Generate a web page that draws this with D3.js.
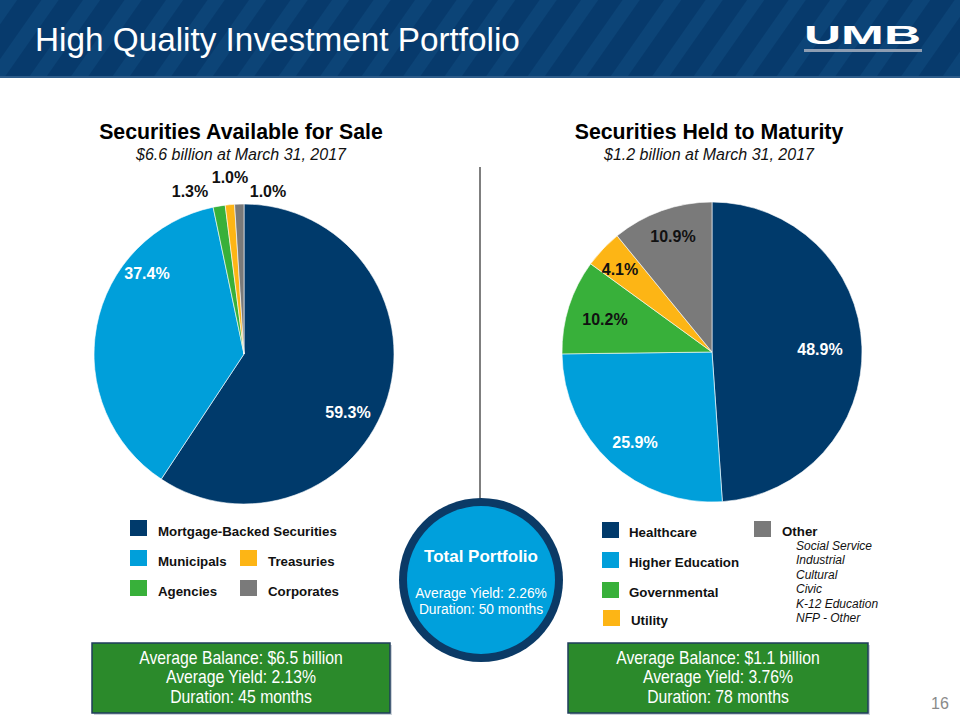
<!DOCTYPE html>
<html>
<head>
<meta charset="utf-8">
<script src="https://cdn.jsdelivr.net/npm/d3@7"></script>
<style>
  html, body { margin: 0; padding: 0; background: #ffffff; }
  svg { display: block; font-family: Arial, "Liberation Sans", sans-serif; }
</style>
</head>
<body>
<svg id="chart" width="960" height="720"></svg>
<script>
// ---------------- DATA ----------------
const afsCategories = ["Mortgage-Backed Securities", "Municipals", "Agencies", "Treasuries", "Corporates"];
const afsValues = [59.3, 37.4, 1.3, 1.0, 1.0];
const afsLabels = ["59.3%", "37.4%", "1.3%", "1.0%", "1.0%"];

const htmCategories = ["Healthcare", "Higher Education", "Governmental", "Utility", "Other"];
const htmValues = [48.9, 25.9, 10.2, 4.1, 10.9];
const htmLabels = ["48.9%", "25.9%", "10.2%", "4.1%", "10.9%"];

const otherSubItems = ["Social Service", "Industrial", "Cultural", "Civic", "K-12 Education", "NFP - Other"];

const afsTitle = "Securities Available for Sale";
const afsSubtitle = "$6.6 billion at March 31, 2017";
const htmTitle = "Securities Held to Maturity";
const htmSubtitle = "$1.2 billion at March 31, 2017";

const afsSummary = ["Average Balance: $6.5 billion", "Average Yield: 2.13%", "Duration: 45 months"];
const htmSummary = ["Average Balance: $1.1 billion", "Average Yield: 3.76%", "Duration: 78 months"];
const totalTitle = "Total Portfolio";
const totalLines = ["Average Yield: 2.26%", "Duration: 50 months"];

// ---------------- STYLE / LAYOUT ----------------
const colors = ["#003a6b", "#009fda", "#38b03a", "#fdb515", "#7a7a7a"];
const svg = d3.select("#chart");
const W = 960, H = 720;

// Header with diagonal stripes
const defs = svg.append("defs");
const pat = defs.append("pattern")
  .attr("id", "stripes").attr("patternUnits", "userSpaceOnUse")
  .attr("width", 34).attr("height", 34)
  .attr("patternTransform", "rotate(35)");
pat.append("rect").attr("width", 34).attr("height", 34).attr("fill", "#073a6c");
pat.append("rect").attr("width", 14).attr("height", 34).attr("fill", "#0c4477");

svg.append("rect").attr("x", 0).attr("y", 0).attr("width", W).attr("height", 77).attr("fill", "url(#stripes)");
svg.append("rect").attr("x", 0).attr("y", 76).attr("width", W).attr("height", 2).attr("fill", "#2d5c8a");

svg.append("text").attr("x", 35).attr("y", 51)
  .attr("fill", "#ffffff").attr("font-size", 33.3)
  .text("High Quality Investment Portfolio");

// UMB logo
svg.append("text").attr("x", 804).attr("y", 44)
  .attr("fill", "#ffffff").attr("font-size", 25).attr("font-weight", 900)
  .attr("textLength", 117).attr("lengthAdjust", "spacingAndGlyphs")
  .text("UMB");
svg.append("rect").attr("x", 804).attr("y", 49).attr("width", 118).attr("height", 3).attr("fill", "#8d9db2");

// Pie helper
const pie = d3.pie().sort(null).value(d => d);
const R = 150;

function drawPie(cx, cy, values, labels, labelOffsets, labelColors, title, subtitle) {
  const g = svg.append("g").attr("transform", `translate(${cx},${cy})`);
  const arc = d3.arc().innerRadius(0).outerRadius(R);
  const arcs = pie(values);
  g.selectAll("path.slice").data(arcs).enter().append("path")
    .attr("class", "slice")
    .attr("d", arc)
    .attr("fill", (d, i) => colors[i])
    .attr("stroke", "#ffffff").attr("stroke-width", 0.6);
  g.selectAll("text.lbl").data(arcs).enter().append("text")
    .attr("class", "lbl")
    .attr("x", (d, i) => labelOffsets[i][0])
    .attr("y", (d, i) => labelOffsets[i][1])
    .attr("text-anchor", "middle").attr("dominant-baseline", "central")
    .attr("font-size", 16).attr("font-weight", "bold")
    .attr("fill", (d, i) => labelColors[i])
    .text((d, i) => labels[i]);
  svg.append("text").attr("x", cx - 3).attr("y", 139)
    .attr("text-anchor", "middle").attr("font-size", 21.3).attr("font-weight", "bold")
    .attr("fill", "#000").text(title);
  svg.append("text").attr("x", cx - 3).attr("y", 160)
    .attr("text-anchor", "middle").attr("font-size", 16).attr("font-style", "italic")
    .attr("fill", "#111").text(subtitle);
}

drawPie(244, 354, afsValues, afsLabels,
  [[104, 58], [-97, -81], [-54, -163], [-14, -177], [24, -163]],
  ["#fff", "#fff", "#111", "#111", "#111"],
  afsTitle, afsSubtitle);

drawPie(712, 352, htmValues, htmLabels,
  [[108, -3], [-77, 90], [-107, -33], [-92, -83], [-39, -116]],
  ["#fff", "#fff", "#111", "#111", "#111"],
  htmTitle, htmSubtitle);

// Divider
svg.append("line").attr("x1", 480).attr("x2", 480).attr("y1", 167).attr("y2", 501)
  .attr("stroke", "#7f7f7f").attr("stroke-width", 2);

// Left legend
const leftLegend = [
  {i: 0, x: 130, y: 520},
  {i: 1, x: 130, y: 550},
  {i: 3, x: 240, y: 550},
  {i: 2, x: 130, y: 580},
  {i: 4, x: 240, y: 580}
];
const lg = svg.append("g");
leftLegend.forEach(d => {
  lg.append("rect").attr("x", d.x).attr("y", d.y).attr("width", 17).attr("height", 16).attr("fill", colors[d.i]);
  lg.append("text").attr("x", d.x + 28).attr("y", d.y + 15.5)
    .attr("font-size", 13.3).attr("font-weight", "bold").attr("fill", "#111")
    .text(afsCategories[d.i]);
});

// Right legend
const rightLegend = [
  {i: 0, x: 602, y: 522, tx: 629},
  {i: 1, x: 602, y: 552, tx: 629},
  {i: 2, x: 602, y: 582, tx: 629},
  {i: 3, x: 603, y: 610, tx: 631},
  {i: 4, x: 754, y: 521, tx: 782}
];
rightLegend.forEach(d => {
  lg.append("rect").attr("x", d.x).attr("y", d.y).attr("width", 17).attr("height", 16).attr("fill", colors[d.i]);
  lg.append("text").attr("x", d.tx).attr("y", d.y + 14.5)
    .attr("font-size", 13.3).attr("font-weight", "bold").attr("fill", "#111")
    .text(htmCategories[d.i]);
});
lg.selectAll("text.sub").data(otherSubItems).enter().append("text")
  .attr("class", "sub")
  .attr("x", 796).attr("y", (d, i) => 550 + i * 14.4)
  .attr("font-size", 12).attr("font-style", "italic").attr("fill", "#111")
  .text(d => d);

// Total portfolio circle
svg.append("circle").attr("cx", 481).attr("cy", 580).attr("r", 82).attr("fill", "#0b3a66");
svg.append("circle").attr("cx", 481).attr("cy", 580).attr("r", 74).attr("fill", "#00a0dc");
svg.append("text").attr("x", 481).attr("y", 562).attr("text-anchor", "middle")
  .attr("font-size", 17).attr("font-weight", "bold").attr("fill", "#fff").text(totalTitle);
svg.selectAll("text.tot").data(totalLines).enter().append("text")
  .attr("class", "tot")
  .attr("x", 481).attr("y", (d, i) => 598 + i * 15.5)
  .attr("text-anchor", "middle").attr("font-size", 13.8).attr("fill", "#fff").text(d => d);

// Summary boxes
function drawBox(x, w, lines) {
  svg.append("rect").attr("x", x + 2).attr("y", 645).attr("width", w).attr("height", 70).attr("fill", "#9aa7b4").attr("opacity", 0.5);
  svg.append("rect").attr("x", x).attr("y", 643).attr("width", w).attr("height", 70)
    .attr("fill", "#2b8a2b").attr("stroke", "#1f3d5c").attr("stroke-width", 1.5);
  const tg = svg.append("g").attr("transform", `translate(${x + w / 2},0) scale(0.9,1)`);
  tg.selectAll(null).data(lines).enter().append("text")
    .attr("x", 0).attr("y", (d, i) => 664 + i * 19.5)
    .attr("text-anchor", "middle")
    .attr("font-size", 17.5).attr("fill", "#fff").text(d => d);
}
drawBox(92, 298, afsSummary);
drawBox(568, 300, htmSummary);

// Page number
svg.append("text").attr("x", 940).attr("y", 709).attr("text-anchor", "middle")
  .attr("font-size", 16).attr("fill", "#8a8a8a").text("16");
</script>
</body>
</html>
